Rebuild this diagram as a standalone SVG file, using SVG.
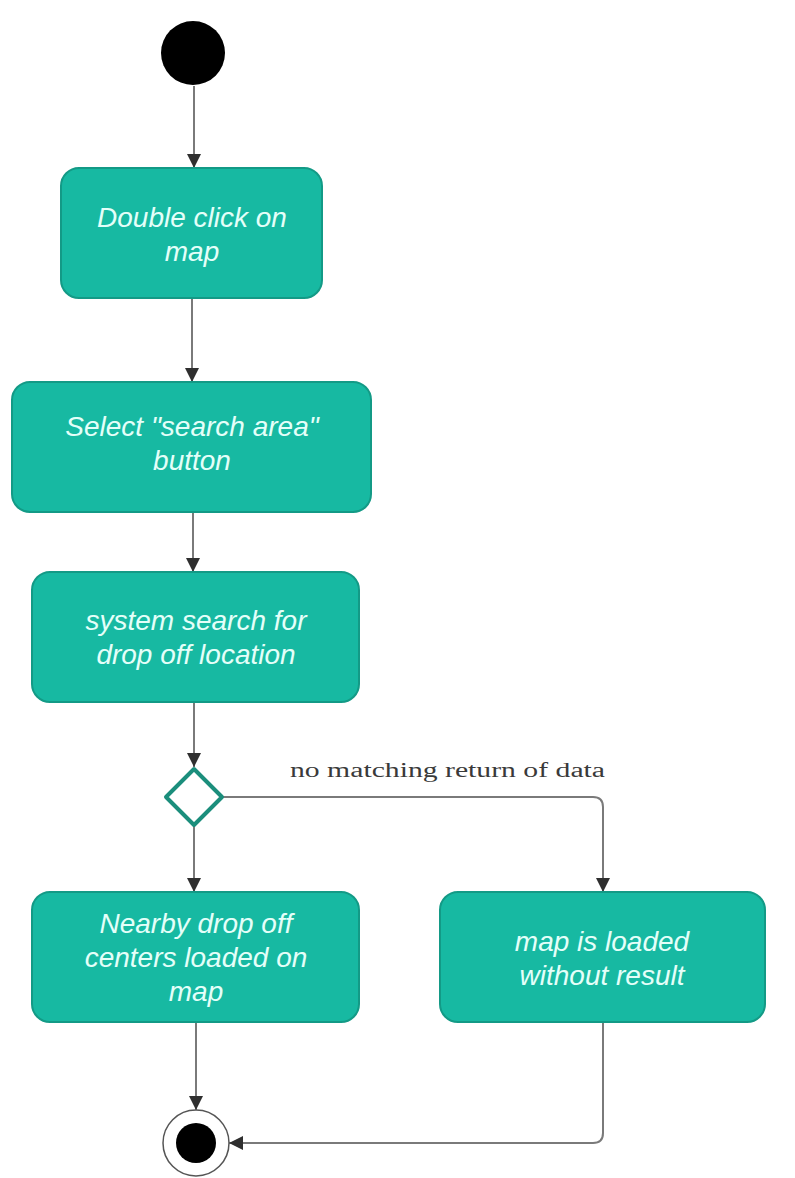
<svg xmlns="http://www.w3.org/2000/svg" width="795" height="1178" viewBox="0 0 795 1178">
  <style>
    .act { fill: #17b9a2; stroke: #139a86; stroke-width: 2; }
    .lbl { font-family: "Liberation Sans", Arial, sans-serif; font-style: italic; font-size: 28px; fill: #e4fff9; text-anchor: middle; }
    .flow { fill: none; stroke: #7a7a7a; stroke-width: 2; }
    .guard { font-family: "Liberation Serif", "Times New Roman", serif; font-size: 20px; fill: #3a3a3a; }
  </style>
  <defs>
    <marker id="arrow" markerUnits="userSpaceOnUse" markerWidth="14" markerHeight="14" refX="14" refY="7" orient="auto">
      <path d="M0,0 L14,7 L0,14 Z" fill="#2f2f2f"/>
    </marker>
  </defs>

  <rect width="795" height="1178" fill="#ffffff"/>

  <!-- connectors -->
  <g id="connectors">
    <line class="flow" x1="194" y1="86" x2="194" y2="168" marker-end="url(#arrow)"/>
    <line class="flow" x1="192" y1="298" x2="192" y2="382" marker-end="url(#arrow)"/>
    <line class="flow" x1="193" y1="512" x2="193" y2="572" marker-end="url(#arrow)"/>
    <line class="flow" x1="194" y1="702" x2="194" y2="767" marker-end="url(#arrow)"/>
    <line class="flow" x1="194" y1="827" x2="194" y2="892" marker-end="url(#arrow)"/>
    <path class="flow" d="M223,797 L593,797 Q603,797 603,807 L603,892" marker-end="url(#arrow)"/>
    <line class="flow" x1="196" y1="1022" x2="196" y2="1110" marker-end="url(#arrow)"/>
    <path class="flow" d="M603,1022 L603,1133 Q603,1143 593,1143 L229,1143" marker-end="url(#arrow)"/>
    <text class="guard" x="290" y="777" textLength="315" lengthAdjust="spacingAndGlyphs">no matching return of data</text>
  </g>

  <!-- initial node -->
  <g id="start">
    <circle cx="193" cy="53" r="32" fill="#000000"/>
  </g>

  <g id="double-click">
    <rect class="act" x="61" y="168" width="261" height="130" rx="18"/>
    <text class="lbl" x="192" y="227">Double click on</text>
    <text class="lbl" x="192" y="261">map</text>
  </g>

  <g id="select-search-area">
    <rect class="act" x="12" y="382" width="359" height="130" rx="18"/>
    <text class="lbl" x="192" y="436">Select "search area"</text>
    <text class="lbl" x="192" y="470">button</text>
  </g>

  <g id="system-search">
    <rect class="act" x="32" y="572" width="327" height="130" rx="18"/>
    <text class="lbl" x="196" y="630">system search for</text>
    <text class="lbl" x="196" y="664">drop off location</text>
  </g>

  <!-- decision -->
  <g id="decision">
    <path d="M194,769 L222,797 L194,825 L166,797 Z" fill="#ffffff" stroke="#1b8e7c" stroke-width="4" stroke-linejoin="round"/>
  </g>

  <g id="centers-loaded">
    <rect class="act" x="32" y="892" width="327" height="130" rx="18"/>
    <text class="lbl" x="196" y="933">Nearby drop off</text>
    <text class="lbl" x="196" y="967">centers loaded on</text>
    <text class="lbl" x="196" y="1001">map</text>
  </g>

  <g id="no-result">
    <rect class="act" x="440" y="892" width="325" height="130" rx="18"/>
    <text class="lbl" x="602" y="951">map is loaded</text>
    <text class="lbl" x="602" y="985">without result</text>
  </g>

  <!-- final node -->
  <g id="end">
    <circle cx="196" cy="1143" r="33" fill="#ffffff" stroke="#555555" stroke-width="1.5"/>
    <circle cx="196" cy="1143" r="20" fill="#000000"/>
  </g>
</svg>
